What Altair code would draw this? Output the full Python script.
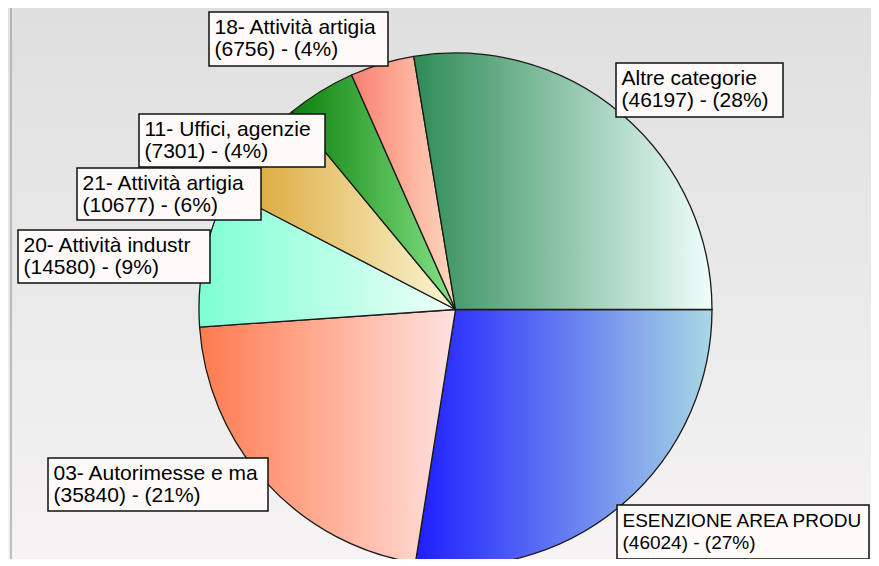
import math
import altair as alt
import pandas as pd

# ---- data ----
CATEGORIES = [
    "ESENZIONE AREA PRODU",
    "03- Autorimesse e ma",
    "20- Attività industr",
    "21- Attività artigia",
    "11- Uffici, agenzie",
    "18- Attività artigia",
    "Altre categorie",
]
VALUES = [46024, 35840, 14580, 10677, 7301, 6756, 46197]

# ---- styles ----
GRADIENTS = [
    ("#1e1eff", "#a9d8e4"),
    ("#ff7b4f", "#ffe2df"),
    ("#7dffd3", "#effffb"),
    ("#d9a22c", "#fbf6d4"),
    ("#0b800b", "#86e486"),
    ("#fa7f70", "#fed9bf"),
    ("#2e8b57", "#f0fffd"),
]
# label boxes (page pixels: left, top, right, bottom) and font sizes
BOXES = [
    (617, 505, 869, 559),
    (48, 458, 268, 511),
    (18, 230, 210, 283),
    (77, 168, 261, 220),
    (139, 114, 325, 167),
    (209, 12, 388, 66),
    (616, 63, 783, 117),
]
FONT_SIZES = [19, 21, 21, 21, 21, 21, 21]

W, H = 863, 551
OFF = 8
CX, CY, R = 455.5 - OFF, 309.5 - OFF, 256.5
TOTAL = sum(VALUES)

df = pd.DataFrame({"cat": CATEGORIES, "value": VALUES, "order": list(range(len(VALUES)))})

lab = pd.DataFrame({
    "txt": [f"{c}\n({v}) - ({round(v / TOTAL * 100)}%)" for c, v in zip(CATEGORIES, VALUES)],
    "bx0": [b[0] - OFF for b in BOXES],
    "by0": [b[1] - OFF for b in BOXES],
    "bx1": [b[2] - OFF for b in BOXES],
    "by1": [b[3] - OFF for b in BOXES],
    "fs": FONT_SIZES,
})
lab["tx"] = lab["bx0"] + 5.5
lab["ty"] = lab["by0"] + 21.5

bg = alt.Chart(pd.DataFrame({"a": [0]})).mark_rect(
    fill=alt.LinearGradient(
        gradient="linear", x1=0, y1=0, x2=0, y2=1,
        stops=[alt.GradientStop(color="#dfdfdf", offset=0),
               alt.GradientStop(color="#f5f3f3", offset=1)],
    )
).encode(x=alt.value(0), x2=alt.value(W), y=alt.value(0), y2=alt.value(H))

frame = alt.Chart(pd.DataFrame({"a": [0]})).mark_rule(
    color="#a8a8a8", strokeWidth=1.5
).encode(x=alt.value(3), y=alt.value(0), y2=alt.value(H))

base = alt.Chart(df).transform_window(
    cum="sum(value)", sort=[alt.SortField("order")], frame=[None, 0]
).transform_calculate(start="datum.cum - datum.value")

theta_scale = alt.Scale(domain=[0, TOTAL], range=[math.pi / 2, math.pi / 2 + 2 * math.pi])

slices = []
for cat, (c0, c1) in zip(CATEGORIES, GRADIENTS):
    slices.append(
        base.transform_filter(alt.datum.cat == cat).mark_arc(
            radius=R,
            clip=True,
            stroke="#1a1a1a",
            strokeWidth=1.3,
            fill=alt.LinearGradient(
                gradient="linear", x1=0, y1=0, x2=1, y2=0,
                stops=[alt.GradientStop(color=c0, offset=0),
                       alt.GradientStop(color=c1, offset=1)],
            ),
        ).encode(
            theta=alt.Theta("start:Q", scale=theta_scale),
            theta2=alt.Theta2("cum:Q"),
            x=alt.value(CX),
            y=alt.value(CY),
        )
    )

boxes = alt.Chart(lab).mark_rect(
    fill="#fffafa", stroke="#111111", strokeWidth=1.5
).encode(
    x=alt.X("bx0:Q", scale=None),
    x2="bx1:Q",
    y=alt.Y("by0:Q", scale=None),
    y2="by1:Q",
)

texts = alt.Chart(lab).mark_text(
    align="left", baseline="alphabetic", lineBreak="\n", lineHeight=22,
    font="Liberation Sans", color="#000000",
).encode(
    x=alt.X("tx:Q", scale=None),
    y=alt.Y("ty:Q", scale=None),
    size=alt.Size("fs:Q", scale=None, legend=None),
    text="txt:N",
)

chart = alt.layer(bg, frame, *slices, boxes, texts).properties(
    width=W, height=H, padding=0,
    autosize=alt.AutoSizeParams(type="none"),
).configure_view(stroke=None).configure(background="#ffffff")

chart.save("out.html", embed_options={"renderer": "svg", "actions": False})
